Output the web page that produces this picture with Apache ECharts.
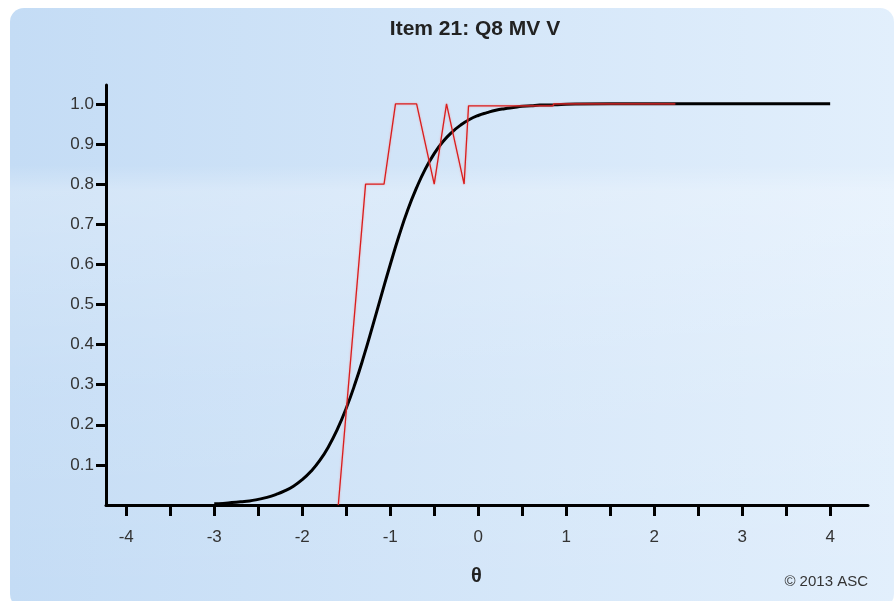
<!DOCTYPE html>
<html><head><meta charset="utf-8">
<script src="https://cdn.jsdelivr.net/npm/echarts@6/dist/echarts.min.js"></script>
<style>html,body{margin:0;padding:0;background:#fff}#c{width:894px;height:601px}</style>
</head><body><div id="c"></div>
<script>
// Black curve (model ICC): theta values and probabilities
const modelTheta = [-3.0,-2.9,-2.8,-2.7,-2.6,-2.5,-2.4,-2.3,-2.2,-2.1,-2.0,-1.9,-1.8,-1.7,-1.6,-1.5,-1.4,-1.3,-1.2,-1.1,-1.0,-0.9,-0.8,-0.7,-0.6,-0.5,-0.4,-0.3,-0.2,-0.1,0.0,0.1,0.2,0.3,0.4,0.5,0.6,0.7,0.8,0.9,1.0,1.5,2.0,2.5,3.0,3.5,4.0];
const modelP = [0.003,0.004,0.006,0.008,0.010,0.014,0.019,0.026,0.035,0.047,0.063,0.084,0.111,0.146,0.189,0.241,0.302,0.371,0.446,0.523,0.599,0.671,0.736,0.791,0.838,0.876,0.906,0.929,0.947,0.961,0.971,0.978,0.984,0.988,0.991,0.994,0.995,0.997,0.997,0.998,0.999,1.0,1.0,1.0,1.0,1.0,1.0];
// Red line (empirical)
const obsTheta = [-1.59,-1.28,-1.07,-0.94,-0.70,-0.50,-0.36,-0.16,-0.11,0.85,0.86,2.24];
const obsP = [0.0,0.8,0.8,1.0,1.0,0.8,1.0,0.8,0.995,0.995,1.0,1.0];
const xTicks = [-4,-3.5,-3,-2.5,-2,-1.5,-1,-0.5,0,0.5,1,1.5,2,2.5,3,3.5,4];
const xLabels = [-4,-3,-2,-1,0,1,2,3,4];
const yTicks = [0.1,0.2,0.3,0.4,0.5,0.6,0.7,0.8,0.9,1.0];
const titleText = 'Item 21: Q8 MV V';
const xName = 'θ';
const credit = '© 2013 ASC';

const chart = echarts.init(document.getElementById('c'), null, {renderer:'canvas'});
const font = 'Liberation Sans, Arial, sans-serif';
chart.setOption({
  animation:false,
  backgroundColor:'#ffffff',
  graphic:[
    {type:'rect', z:-10, silent:true, shape:{x:10,y:8,width:884,height:600,r:14},
     style:{fill:new echarts.graphic.LinearGradient(0,0,1,0,[{offset:0,color:'#c4dcf5'},{offset:1,color:'#e2effc'}])}},
    {type:'rect', z:-9, silent:true, shape:{x:10,y:165,width:884,height:436,r:[0,0,14,14]},
     style:{fill:new echarts.graphic.LinearGradient(0,0,0,1,[{offset:0,color:'rgba(255,255,255,0)'},{offset:0.06,color:'rgba(255,255,255,0.26)'},{offset:0.5,color:'rgba(255,255,255,0.08)'},{offset:1,color:'rgba(255,255,255,0)'}])}},
    {type:'text', right:26, top:574, style:{text:credit, font:'15px '+font, fill:'#333'}},
    {type:'text', left:471, top:566, style:{text:xName, font:'bold 20px '+font, fill:'#222'}}
  ],
  title:{text:titleText, left:475, textAlign:'center', top:19, textStyle:{fontFamily:font, fontSize:21, fontWeight:'bold', color:'#222'}, padding:0},
  grid:{left:106, top:85, width:762, height:420, containLabel:false},
  xAxis:{type:'value', min:-4.23, max:4.43,
    axisLine:{onZero:false, lineStyle:{color:'#000', width:3}},
    axisTick:{show:true, inside:false, length:11, lineStyle:{color:'#000', width:3}, customValues:xTicks},
    axisLabel:{customValues:xLabels, margin:24, fontFamily:font, fontSize:17, color:'#333', formatter:v=>String(v)},
    splitLine:{show:false}},
  yAxis:{type:'value', min:0, max:1.047,
    axisLine:{show:true, onZero:false, lineStyle:{color:'#000', width:3}},
    axisTick:{show:true, length:10, lineStyle:{color:'#000', width:3}, customValues:yTicks},
    axisLabel:{customValues:yTicks, margin:12, fontFamily:font, fontSize:17, color:'#333', formatter:v=>v.toFixed(1)},
    splitLine:{show:false}},
  series:[
    {type:'line', name:'model', data:modelTheta.map((t,i)=>[t,modelP[i]]), smooth:true, showSymbol:false, z:2,
     lineStyle:{color:'#000', width:3}},
    {type:'line', name:'observed', data:obsTheta.map((t,i)=>[t,obsP[i]]), showSymbol:false, z:3,
     lineStyle:{color:'#d81e1e', width:1.3, shadowColor:'rgba(255,120,120,0.6)', shadowBlur:2}}
  ]
});
</script></body></html>
